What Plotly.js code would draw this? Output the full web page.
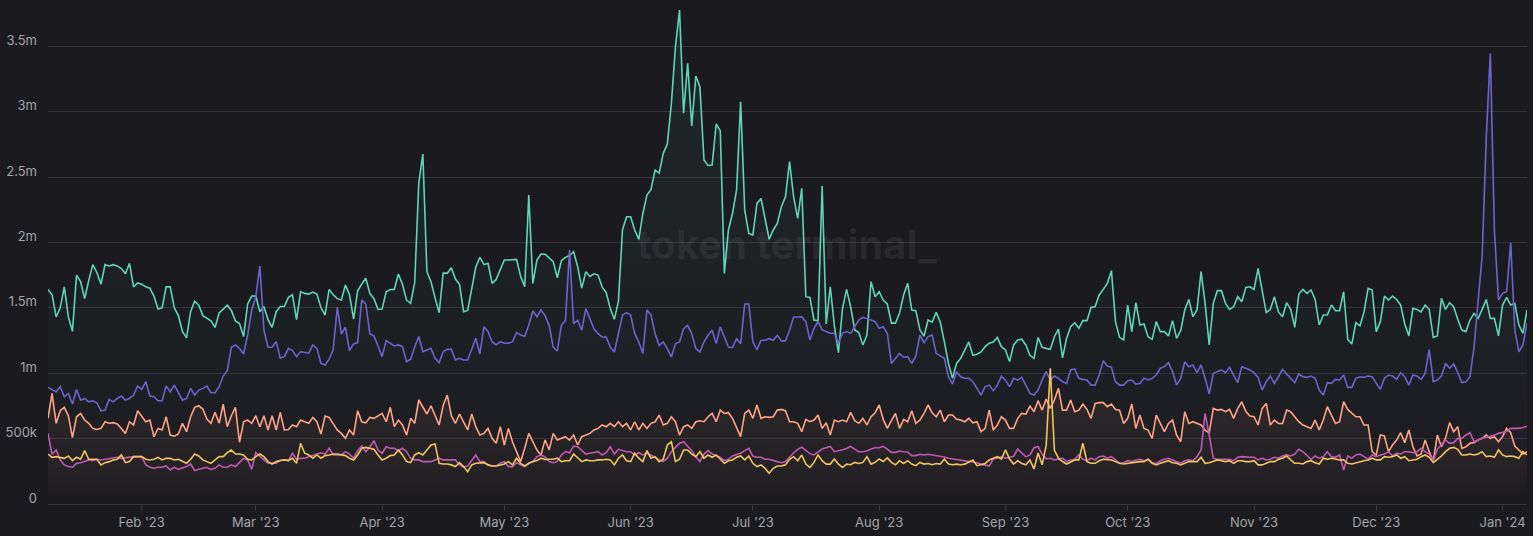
<!DOCTYPE html>
<html>
<head>
<meta charset="utf-8">
<script src="https://cdn.plot.ly/plotly-3.0.1.min.js"></script>
<style>
  html, body { margin: 0; padding: 0; background: #1b1b1f; }
  #chart { width: 1533px; height: 536px; }
</style>
</head>
<body>
<div id="chart"></div>
<script>
// daily values, in thousands, 9 Jan 2023 -> 7 Jan 2024
var startDate = '2023-01-09';

var greenVals = [
  1640,1600,1430,1500,1660,1430,1320,1750,1700,1570,1710,1830,1770,1680,1830,1820,1830,1820,1800,1760,1840,1660,1690,1680,1660,1650,1590,1490,1500,1660,1660,1500,1440,1320,1270,1470,1550,1520,1440,1420,1400,1350,1460,1490,1520,1480,1400,1380,1280,1530,1590,1590,1470,1510,1410,1350,1470,1510,1510,1580,1600,1410,
  1624,1610,1605,1620,1605,1500,1445,1641,1600,1570,1559,1674,1600,1414,1630,1682,1726,1610,1570,1488,1490,1622,1640,1640,1758,1680,1559,1534,1692,2452,2676,1776,1700,1576,1462,1765,1765,1807,1720,1680,1470,1480,1661,1812,1886,1830,1840,1687,1717,1790,1865,1865,1865,1870,1740,1661,2362,1687,1865,1911,
  1910,1880,1853,1730,1860,1886,1900,1929,1815,1650,1775,1740,1760,1750,1660,1616,1495,1412,1549,2095,2196,2196,2095,2024,2221,2362,2405,2553,2530,2681,2752,3063,3496,3777,2987,3369,2890,3272,3190,2630,2588,2592,2905,2854,1763,2095,2221,2400,3075,2247,2069,2056,2298,2336,2183,2024,2095,2145,2272,2349,2617,2349,2183,
  2413,1585,1580,1407,1400,2431,1376,1661,1363,1157,1496,1641,1508,1331,1311,1216,1292,1700,1585,1623,1559,1529,1383,1383,1460,1598,1687,1483,1478,1331,1283,1407,1390,1465,1390,1239,1075,961,1075,1114,1178,1239,1137,1145,1163,1203,1229,1239,1273,1203,1178,1089,1216,1254,1260,1216,1137,1114,1273,1198,1190,
  1183,1279,1337,1117,1267,1356,1386,1343,1402,1402,1503,1508,1598,1641,1687,1784,1394,1274,1254,1521,1318,1539,1369,1376,1279,1259,1394,1318,1318,1285,1402,1267,1325,1483,1564,1432,1483,1776,1534,1216,1534,1631,1631,1534,1488,1508,1585,1546,1656,1661,1641,1802,1623,1463,1488,1585,1468,1432,1539,1488,1351,1605,
  1641,1610,1636,1564,1369,1445,1445,1521,1478,1478,1623,1259,1223,1386,1361,1468,1648,1636,1318,1394,1590,1559,1590,1564,1521,1376,1285,1496,1488,1468,1521,1488,1274,1285,1572,1488,1539,1508,1412,1330,1318,1407,1458,1419,1488,1564,1419,1419,1285,1521,1580,1521,1534,1369,1305,1483
];

var purpleVals = [
  892,876,858,897,820,845,764,876,794,807,781,789,774,712,718,799,781,807,825,794,807,833,902,876,935,825,820,789,789,902,858,909,845,794,807,884,833,871,884,902,851,851,897,978,1019,1198,1216,1190,1147,1292,1483,1585,1819,1330,1198,1198,1241,1114,1126,1190,1173,1126,
  1165,1160,1153,1216,1190,1075,1063,1107,1178,1504,1300,1351,1173,1224,1234,1559,1529,1300,1285,1208,1127,1249,1229,1208,1216,1203,1088,1107,1203,1280,1165,1178,1190,1114,1081,1165,1182,1182,1101,1114,1101,1101,1190,1267,1147,1356,1318,1241,1216,1241,1229,1229,1241,1310,1292,1280,1369,1476,1432,1483,
  1440,1366,1200,1170,1366,1404,1942,1379,1404,1328,1494,1417,1340,1302,1277,1277,1200,1162,1302,1445,1463,1445,1302,1239,1150,1483,1445,1302,1213,1239,1188,1124,1226,1239,1340,1366,1302,1188,1162,1239,1290,1328,1226,1353,1277,1200,1195,1264,1226,1529,1529,1239,1180,1252,1252,1264,1252,1290,1247,1247,1328,1430,1430,
  1432,1394,1254,1343,1394,1331,1318,1305,1305,1229,1305,1318,1305,1356,1407,1427,1419,1407,1394,1343,1356,1305,1075,1114,1152,1122,1127,1075,1132,1292,1234,1280,1292,1152,1132,1114,973,917,1012,973,961,961,935,884,833,897,909,866,909,978,947,897,961,947,968,909,845,833,871,947,1012,
  948,978,961,935,922,1025,1033,961,953,948,909,909,986,1096,1055,1045,935,909,909,942,948,917,922,961,948,961,986,1038,1050,1081,1012,909,961,1088,1050,1063,1004,1063,961,841,999,1012,1025,1004,1045,986,928,1050,1038,1025,1004,968,871,935,978,922,973,1030,994,961,928,994,
  973,968,978,961,871,833,928,922,953,948,986,892,892,961,973,968,978,973,922,876,961,986,978,953,1004,973,909,986,978,953,999,1182,935,948,978,1075,1038,1071,1004,928,935,973,1200,1534,1900,2800,3445,2095,1560,1611,1623,1998,1330,1164,1216,1381
];

var salmonVals = [
  655,846,617,713,739,675,507,667,692,642,617,578,570,578,629,617,622,612,578,540,629,604,713,667,629,642,514,578,566,667,527,518,535,617,553,667,739,751,726,649,617,701,617,764,591,675,739,472,629,642,617,675,591,675,566,675,566,701,566,570,604,591,
  642,629,617,662,629,535,672,662,617,566,540,502,566,527,713,629,621,662,655,672,693,629,739,591,642,604,527,655,617,795,739,688,751,675,604,756,833,675,617,688,629,566,688,591,527,540,578,502,464,591,451,578,476,392,324,426,540,476,413,375,
  490,413,540,489,502,515,489,527,451,515,527,540,566,578,604,591,617,591,629,591,617,566,629,566,617,578,617,629,680,604,617,667,629,527,591,604,578,629,636,629,667,693,629,718,693,698,655,591,515,693,718,655,757,655,667,662,667,718,723,713,629,629,617,
  553,647,629,642,680,578,621,527,642,629,642,629,701,637,617,655,604,667,698,757,647,578,637,693,578,647,629,713,617,642,693,757,698,667,718,629,680,680,647,642,629,655,621,629,553,578,718,566,604,667,642,578,578,655,693,688,749,706,790,718,803,
  731,795,884,718,718,795,706,718,764,723,655,769,775,775,744,764,723,718,616,655,764,578,680,578,565,502,680,616,553,616,642,527,476,706,616,629,616,604,565,544,731,718,723,706,723,655,731,782,706,672,667,604,731,769,604,642,616,616,718,706,667,629,
  604,591,578,642,566,642,744,680,616,629,782,723,693,667,667,604,604,400,374,527,520,400,451,489,545,469,566,438,367,383,489,400,331,527,438,502,622,553,591,425,438,464,469,489,502,527,502,515,476,515,578,545,443,413,383,400
];

var magentaVals = [
  540,380,413,337,299,286,281,311,316,324,337,332,342,337,342,349,349,357,349,354,362,362,362,362,299,281,273,281,281,291,260,281,265,273,286,306,255,265,273,281,265,273,299,281,281,299,286,316,349,337,265,393,362,337,311,311,311,332,337,332,388,342,
  350,350,362,375,382,392,382,426,375,375,375,400,382,350,407,443,400,438,484,413,388,438,426,426,407,426,400,350,337,337,324,324,324,337,350,337,337,332,337,299,281,291,337,375,324,324,299,291,291,311,324,286,286,316,299,286,311,324,362,375,
  360,324,316,324,375,400,392,443,438,408,382,388,392,400,375,392,438,382,418,408,400,400,375,392,375,388,375,357,337,324,350,400,433,464,476,443,408,362,324,382,408,382,367,357,331,342,367,375,388,408,426,367,357,357,342,342,331,324,316,324,357,392,418,
  435,410,385,375,400,420,430,440,400,405,415,425,440,420,400,400,405,420,430,430,440,420,395,395,405,400,398,370,370,380,375,380,375,370,370,360,350,345,345,340,335,330,320,315,305,295,290,345,352,360,350,360,365,420,390,360,375,430,440,380,345,
  350,337,342,350,324,337,342,375,342,331,350,337,362,367,350,362,337,311,316,331,324,337,342,331,342,316,311,331,342,350,337,324,311,331,337,331,362,413,693,528,350,342,342,342,342,331,357,362,357,357,357,337,350,337,342,357,350,367,375,367,382,418,
  400,367,342,367,350,362,400,362,357,375,260,367,350,375,382,362,342,375,362,375,382,400,367,388,382,400,400,392,400,426,400,382,331,418,451,489,464,469,502,502,528,545,477,489,505,510,515,525,540,545,555,578,578,578,585,595
];

var yellowVals = [
  382,357,362,357,349,367,332,357,342,408,342,342,342,299,316,324,337,342,375,316,324,362,362,362,342,337,342,357,337,349,349,337,342,324,311,342,382,367,337,324,311,337,362,362,393,413,382,382,375,342,337,362,382,362,324,306,324,332,337,332,349,311,
  464,388,375,350,375,350,370,375,382,382,375,370,350,337,375,426,433,426,418,375,337,350,370,375,413,375,324,316,375,392,375,413,451,459,311,306,306,299,286,316,286,247,299,311,311,316,299,291,291,299,306,324,299,350,311,291,311,324,332,350,
  340,342,342,350,324,331,331,382,350,324,337,331,331,337,337,342,337,299,350,375,331,324,388,350,324,408,350,362,324,342,451,476,324,342,413,413,382,362,400,350,375,357,375,342,311,331,337,357,367,337,367,311,286,299,273,235,273,291,291,299,342,362,331,
  375,305,280,318,375,331,305,305,344,305,280,305,300,318,310,318,362,305,318,344,325,352,318,300,331,310,331,305,293,318,305,310,300,310,305,344,305,300,305,300,305,318,336,293,300,310,336,352,362,344,415,344,305,331,310,300,336,268,390,300,450,
  1037,413,350,324,306,324,337,337,464,324,311,311,331,342,337,337,324,311,306,311,316,324,324,324,342,311,299,311,324,331,316,311,299,311,324,324,324,357,311,316,324,337,331,324,331,311,331,331,324,324,331,299,299,311,324,324,342,350,367,337,311,311,
  306,324,331,316,306,350,342,350,342,337,337,311,306,316,324,331,337,350,337,337,362,357,362,375,350,362,331,337,342,362,375,357,316,342,367,400,426,433,418,375,375,382,375,382,400,362,367,357,413,375,362,367,362,350,400,375
];

var yTickVals = [0, 500, 1000, 1500, 2000, 2500, 3000, 3500];
var yTickText = ['0', '500k', '1m', '1.5m', '2m', '2.5m', '3m', '3.5m'];

// one date per value
var dates = [];
var d0 = new Date(startDate + 'T00:00:00Z');
for (var i = 0; i < greenVals.length; i++) {
  var d = new Date(d0.getTime() + i * 86400000);
  dates.push(d.toISOString().slice(0, 10));
}

function makeTrace(name, vals, rgb, fillTop) {
  return {
    x: dates,
    y: vals,
    name: name,
    type: 'scatter',
    mode: 'lines',
    line: {color: 'rgb(' + rgb + ')', width: 1.6},
    fill: 'tozeroy',
    fillcolor: 'rgba(' + rgb + ',' + (fillTop / 2) + ')',
    fillgradient: {
      type: 'vertical',
      colorscale: [[0, 'rgba(' + rgb + ',0)'], [1, 'rgba(' + rgb + ',' + fillTop + ')']]
    },
    hoverinfo: 'x+y+name'
  };
}

var data = [
  makeTrace('green', greenVals, '94,214,181', 0.07),
  makeTrace('purple', purpleVals, '108,99,207', 0.05),
  makeTrace('salmon', salmonVals, '255,163,134', 0.08),
  makeTrace('magenta', magentaVals, '192,88,180', 0.04),
  makeTrace('yellow', yellowVals, '240,196,94', 0.04)
];

var layout = {
  width: 1533,
  height: 536,
  margin: {l: 48, r: 6, t: 5, b: 32},
  paper_bgcolor: '#1b1b1f',
  plot_bgcolor: '#1b1b1f',
  showlegend: false,
  font: {family: 'Inter, "DejaVu Sans", sans-serif', color: '#a3a3a8', size: 13},
  xaxis: {
    type: 'date',
    range: [dates[0], dates[dates.length - 1]],
    dtick: 'M1',
    tick0: '2023-02-01',
    tickformat: "%b '%y",
    showgrid: false,
    zeroline: false,
    showline: false,
    ticks: 'outside',
    ticklen: 6,
    tickwidth: 1,
    tickcolor: '#38383d',
    tickfont: {size: 13, color: '#a3a3a8'}
  },
  yaxis: {
    range: [0, 3815],
    tickvals: yTickVals,
    ticktext: yTickText,
    showgrid: true,
    gridcolor: '#313136',
    gridwidth: 1,
    zeroline: true,
    zerolinecolor: '#38383d',
    zerolinewidth: 1,
    ticks: '',
    ticklabelshift: -6,
    ticklabelstandoff: 10,
    tickfont: {size: 13, color: '#a3a3a8'}
  },
  annotations: [{
    text: 'token terminal_',
    xref: 'paper', yref: 'paper',
    x: 0.5, y: 0.52,
    xanchor: 'center', yanchor: 'middle',
    showarrow: false,
    font: {family: 'Inter, "DejaVu Sans", sans-serif', size: 40, weight: 700, color: 'rgba(255,255,255,0.07)'}
  }]
};

Plotly.newPlot('chart', data, layout, {displayModeBar: false, staticPlot: true});
</script>
</body>
</html>
